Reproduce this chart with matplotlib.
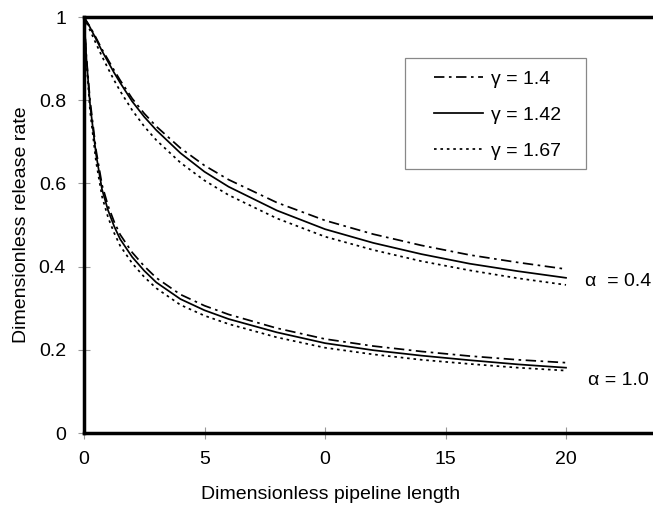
import matplotlib
matplotlib.use("Agg")
import matplotlib.pyplot as plt
from matplotlib.patches import Rectangle

plt.rcParams['font.family'] = ['Liberation Sans', 'DejaVu Sans']

# Dimensionless pipeline length sample points
x = [0, 0.1, 0.25, 0.5, 0.75, 1, 1.25, 1.5, 2, 2.5, 3, 4, 5, 6, 8, 10, 12, 14, 16, 18, 20]

# alpha = 0.4 family
a04_g140 = [1.0, 0.99, 0.977, 0.95, 0.922, 0.897, 0.872, 0.848, 0.804, 0.768, 0.737, 0.685, 0.643, 0.609, 0.554, 0.511, 0.478, 0.451, 0.428, 0.41, 0.394]
a04_g142 = [1.0, 0.99, 0.975, 0.947, 0.918, 0.892, 0.866, 0.842, 0.797, 0.76, 0.728, 0.673, 0.628, 0.592, 0.535, 0.49, 0.457, 0.43, 0.407, 0.389, 0.373]
a04_g167 = [1.0, 0.987, 0.968, 0.936, 0.905, 0.876, 0.848, 0.822, 0.776, 0.737, 0.704, 0.65, 0.607, 0.572, 0.516, 0.472, 0.44, 0.413, 0.391, 0.372, 0.356]

# alpha = 1.0 family
a10_g140 = [1.0, 0.905, 0.80, 0.68, 0.596, 0.546, 0.508, 0.477, 0.434, 0.401, 0.373, 0.333, 0.306, 0.285, 0.252, 0.226, 0.209, 0.196, 0.185, 0.176, 0.169]
a10_g142 = [1.0, 0.90, 0.79, 0.67, 0.585, 0.535, 0.497, 0.466, 0.423, 0.39, 0.362, 0.322, 0.295, 0.274, 0.242, 0.216, 0.199, 0.186, 0.175, 0.165, 0.157]
a10_g167 = [1.0, 0.893, 0.775, 0.652, 0.568, 0.518, 0.481, 0.45, 0.408, 0.375, 0.348, 0.308, 0.282, 0.262, 0.23, 0.205, 0.189, 0.176, 0.166, 0.157, 0.150]

legend_labels = ['γ = 1.4', 'γ = 1.42', 'γ = 1.67']
alpha_labels = ['α  = 0.4', 'α = 1.0']
xticks = [0, 5, 10, 15, 20]
xticklabels = ['0', '5', '0', '15', '20']
yticks = [0, 0.2, 0.4, 0.6, 0.8, 1.0]
yticklabels = ['0', '0.2', '0.4', '0.6', '0.8', '1']

W, H = 653, 511
fig = plt.figure(figsize=(W / 100, H / 100), dpi=100)
ax = fig.add_axes([84 / W, (H - 433) / H, 1 - 84 / W, (433 - 17) / H])

dashdot = (0, (6, 2.6, 1.5, 2.6))
dotted = (0, (1.5, 2.2))
lw = 1.25

l1, = ax.plot(x, a04_g140, color='black', lw=lw, linestyle=dashdot)
l2, = ax.plot(x, a04_g142, color='black', lw=lw, linestyle='-')
l3, = ax.plot(x, a04_g167, color='black', lw=lw, linestyle=dotted)
ax.plot(x, a10_g140, color='black', lw=lw, linestyle=dashdot)
ax.plot(x, a10_g142, color='black', lw=lw, linestyle='-')
ax.plot(x, a10_g167, color='black', lw=lw, linestyle=dotted)

ax.set_xlim(0, (W - 84) / 24.1)
ax.set_ylim(0, 1)

for s in ['left', 'top', 'bottom']:
    ax.spines[s].set_linewidth(2.5)
    ax.spines[s].set_color('black')
ax.spines['right'].set_visible(False)

ax.set_xticks(xticks)
ax.set_xticklabels(xticklabels)
ax.set_yticks(yticks)
ax.set_yticklabels(yticklabels)
ax.tick_params(direction='inout', length=8, width=0.8, color='#999999',
               labelsize=14, pad=9)

ax.set_xlabel('Dimensionless pipeline length', fontsize=14)
ax.xaxis.set_label_coords((331 - 84) / (W - 84), -(494 - 433) / 416)
ax.xaxis.label.set_va('center')
ax.set_ylabel('Dimensionless release rate', fontsize=14)
ax.yaxis.set_label_coords(-(84 - 22) / (W - 84), 0.5)
ax.yaxis.label.set_va('center')

# legend box drawn in figure pixel coordinates
box = Rectangle((405 / W, 1 - 169 / H), (586 - 405) / W, (169 - 58) / H,
                transform=fig.transFigure, facecolor='white',
                edgecolor='#888888', linewidth=0.9, zorder=5)
fig.patches.append(box)

leg = fig.legend([l1, l2, l3], legend_labels, loc='upper left',
                 bbox_to_anchor=(434 / W, 1 - 70 / H),
                 fontsize=14, frameon=False,
                 handlelength=2.5, handletextpad=0.45, labelspacing=0.95,
                 borderpad=0, borderaxespad=0)
leg.set_zorder(6)

ax.text(20.8, 0.365, alpha_labels[0], fontsize=14, va='center', ha='left')
ax.text(20.9, 0.127, alpha_labels[1], fontsize=14, va='center', ha='left')

fig.savefig('out.png', dpi=100)
